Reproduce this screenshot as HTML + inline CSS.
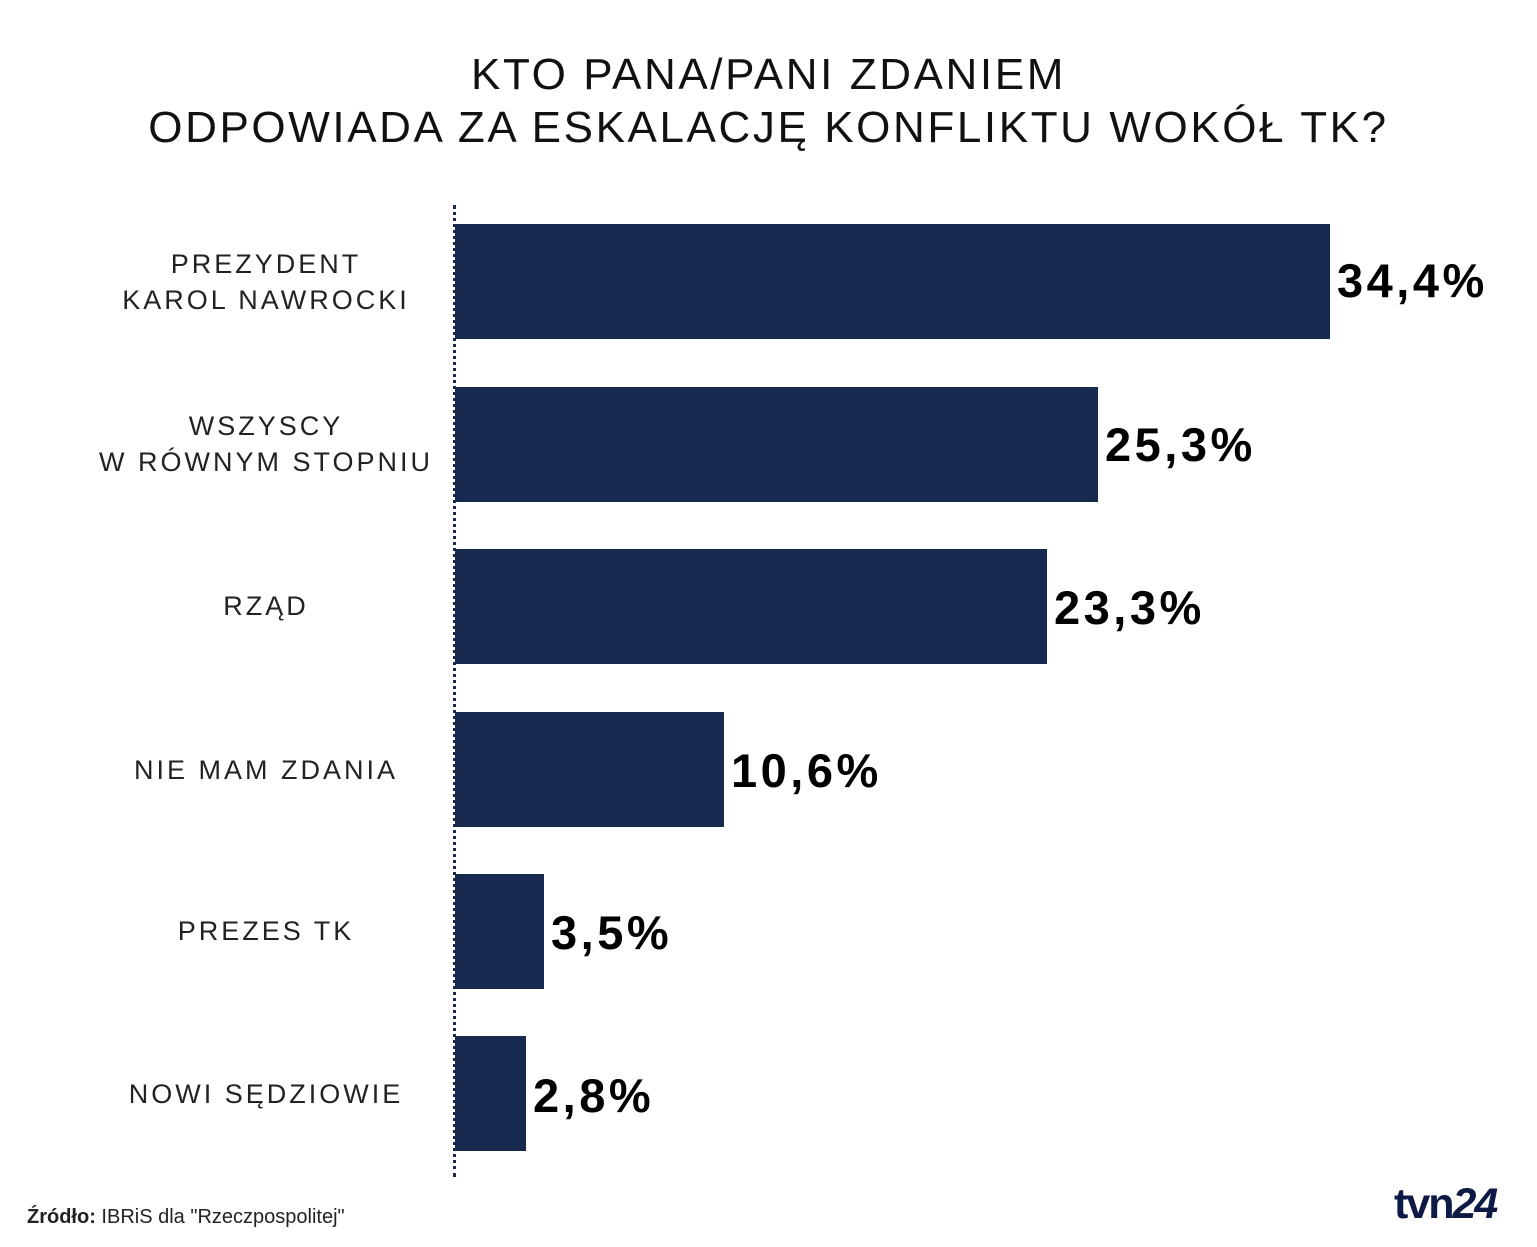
<!DOCTYPE html>
<html><head><meta charset="utf-8"><style>
body{margin:0;width:1537px;height:1247px;background:#fff;position:relative;overflow:hidden;font-family:"Liberation Sans",sans-serif;color:#111}
.t{position:absolute;left:0;width:1537px;text-align:center;font-size:44px;letter-spacing:2.6px;color:#111}
.bar{position:absolute;left:455px;background:#18294f;height:115px}
.lab{position:absolute;left:66px;width:400px;text-align:center;font-size:27px;letter-spacing:3px;line-height:36px;color:#222}
.val{position:absolute;font-size:47px;font-weight:bold;color:#000;letter-spacing:3.5px}
.dots{position:absolute;left:453px;top:205px;height:972px;border-left:3px dotted #18294f}
</style></head><body>
<div class="t" style="top:50px">KTO PANA/PANI ZDANIEM</div>
<div class="t" style="top:103px">ODPOWIADA ZA ESKALACJĘ KONFLIKTU WOKÓŁ TK?</div>
<div class="dots"></div>

<div class="bar" style="top:224px;width:875px"></div>
<div class="lab" style="top:246px">PREZYDENT<br>KAROL NAWROCKI</div>
<div class="val" style="left:1337px;top:253px">34,4%</div>

<div class="bar" style="top:387px;width:643px"></div>
<div class="lab" style="top:408px">WSZYSCY<br>W RÓWNYM STOPNIU</div>
<div class="val" style="left:1105px;top:417px">25,3%</div>

<div class="bar" style="top:549px;width:592px"></div>
<div class="lab" style="top:588px">RZĄD</div>
<div class="val" style="left:1054px;top:580px">23,3%</div>

<div class="bar" style="top:712px;width:269px"></div>
<div class="lab" style="top:752px">NIE MAM ZDANIA</div>
<div class="val" style="left:731px;top:743px">10,6%</div>

<div class="bar" style="top:874px;width:89px"></div>
<div class="lab" style="top:913px">PREZES TK</div>
<div class="val" style="left:551px;top:905px">3,5%</div>

<div class="bar" style="top:1036px;width:71px"></div>
<div class="lab" style="top:1076px">NOWI SĘDZIOWIE</div>
<div class="val" style="left:533px;top:1068px">2,8%</div>

<div style="position:absolute;left:27px;top:1206px;font-size:20px;color:#222"><b>Źródło:</b> IBRiS dla "Rzeczpospolitej"</div>
<div style="position:absolute;left:1394px;top:1180px;font-size:43px;font-weight:bold;color:#0d1a45;letter-spacing:-2px">tvn<i>24</i></div>
</body></html>
